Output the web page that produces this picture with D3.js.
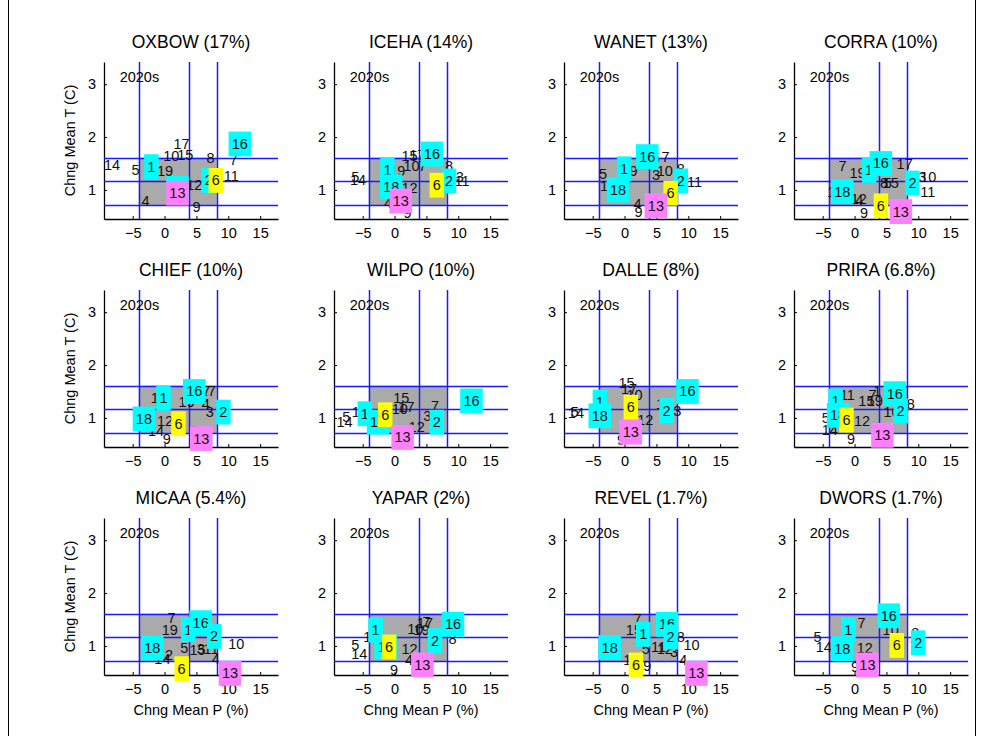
<!DOCTYPE html>
<html><head><meta charset="utf-8">
<script src="https://cdn.jsdelivr.net/npm/d3@7"></script>
<style>body{margin:0;background:#fff}svg{display:block}text{font-family:Arial,"Liberation Sans",sans-serif}</style>
</head><body>
<script>
// ---------------- data ----------------
const sites = ["OXBOW (17%)","ICEHA (14%)","WANET (13%)","CORRA (10%)",
               "CHIEF (10%)","WILPO (10%)","DALLE (8%)","PRIRA (6.8%)",
               "MICAA (5.4%)","YAPAR (2%)","REVEL (1.7%)","DWORS (1.7%)"];
const xTicks = [-5,0,5,10,15];
const yTicks = [1,2,3];
const pThresholds = [-4.05, 3.85, 8.2];   // vertical reference lines (precip %)
const tThresholds = [0.71, 1.17, 1.61];   // horizontal reference lines (temp C)
const periodLabel = "2020s";
const highlightCyan = [1,2,16,18];
const highlightYellow = [6];
const highlightMagenta = [13];
// [model, change in P (%), change in T (C)]
const OXBOW = [[14,-9.5,1.47],[5,-5.2,1.38],[19,-1.2,1.35],[10,-0.2,1.64],[15,2.0,1.66],[17,1.4,1.87],[8,6.6,1.6],[7,10.2,1.57],[11,9.3,1.27],[3,6.9,1.2],[12,3.4,1.09],[4,-3.6,0.79],[9,4.4,0.68],
  [1,-2.7,1.44],[18,0.75,1.03],[16,10.55,1.87],[2,6.3,1.18],[6,7.4,1.18],[13,0.75,0.94]];
const ICEHA = [[14,-7.0,1.18],[5,-6.8,1.25],[19,-0.85,1.35],[12,1.1,1.03],[4,-1.65,0.75],[10,1.4,1.45],[15,1.1,1.64],[17,2.3,1.67],[7,3.75,1.46],[8,7.9,1.46],[11,9.4,1.16],[3,9.6,1.24],[9,1.4,0.56],
  [1,-1.75,1.38],[18,-1.8,1.06],[16,4.6,1.68],[2,7.9,1.17],[6,6.0,1.09],[13,-0.3,0.79]];
const WANET = [[5,-4.0,1.3],[14,-3.85,1.08],[19,-0.5,1.35],[7,5.8,1.62],[3,4.3,1.28],[10,5.05,1.35],[8,8.2,1.4],[11,9.8,1.15],[4,1.4,0.73],[9,1.55,0.59],[12,4.0,0.7],[15,3.0,1.6],[17,2.6,1.6],
  [1,-0.7,1.4],[18,-2.3,1.0],[16,2.3,1.63],[2,8.2,1.17],[6,6.6,0.94],[13,3.65,0.70]];
const CORRA = [[7,-2.5,1.46],[19,-0.8,1.32],[17,6.6,1.49],[8,4.0,1.13],[15,4.4,1.13],[3,10.0,1.24],[10,10.3,1.24],[11,10.3,0.97],[14,-4.3,0.96],[12,-0.6,0.83],[4,0.1,0.81],[9,0.85,0.57],[5,4.6,1.13],
  [1,1.65,1.37],[16,2.85,1.5],[2,8.45,1.13],[18,-3.2,0.97],[6,3.5,0.7],[13,6.0,0.59]];
const CHIEF = [[11,-2.15,1.37],[17,5.5,1.5],[19,2.2,1.3],[4,5.85,1.27],[3,6.45,1.11],[14,-2.6,0.76],[12,-1.2,0.94],[9,-0.3,0.61],[5,3.9,0.75],[7,5.9,1.5],
  [1,-0.8,1.37],[18,-4.5,0.98],[16,3.4,1.5],[2,8.6,1.11],[6,1.55,0.89],[13,4.5,0.61]];
const WILPO = [[14,-9.1,0.92],[5,-8.2,1.01],[11,-6.7,1.11],[15,-0.2,1.38],[10,-0.45,1.16],[17,0.6,1.21],[3,4.5,1.03],[7,5.7,1.22],[12,2.2,0.83],
  [1,-5.3,1.08],[18,-3.85,0.92],[2,6.0,0.92],[16,10.8,1.32],[6,-2.1,1.06],[13,0.0,0.63]];
const DALLE = [[14,-8.9,1.09],[5,-8.45,1.11],[15,-0.95,1.66],[17,-0.55,1.54],[10,0.3,1.43],[12,2.0,0.97],[9,-1.2,0.59],[11,4.95,1.27],[3,7.65,1.13],
  [1,-4.5,1.3],[18,-5.15,1.04],[2,5.95,1.14],[16,8.6,1.5],[6,0.35,1.2],[13,-0.3,0.73]];
const PRIRA = [[11,-2.3,1.43],[5,-5.15,1.0],[14,-5.15,0.78],[12,-0.1,0.94],[15,0.6,1.32],[19,1.9,1.32],[7,2.2,1.43],[17,2.95,1.5],[10,4.55,1.11],[8,8.2,1.27],[9,-1.2,0.6],
  [1,-3.6,1.32],[18,-3.85,1.05],[16,5.05,1.46],[2,6.6,1.13],[6,-1.9,0.96],[13,3.1,0.67]];
const MICAA = [[7,0.45,1.52],[19,-0.45,1.31],[10,10.0,1.03],[5,2.45,0.96],[15,3.9,0.92],[3,5.05,0.95],[11,6.1,0.94],[4,7.4,0.76],[12,-1.2,0.82],[14,-1.6,0.76],
  [1,3.1,1.31],[16,4.4,1.44],[2,7.15,1.18],[18,-3.2,0.96],[6,2.05,0.57],[13,9.0,0.48]];
const YAPAR = [[5,-6.8,1.01],[14,-6.8,0.85],[11,-4.9,1.17],[12,1.1,0.95],[4,1.65,0.73],[9,-0.7,0.54],[10,2.0,1.32],[19,2.95,1.3],[17,3.5,1.43],[7,4.4,1.45],[8,8.45,1.14],
  [1,-3.6,1.3],[18,-2.65,0.98],[2,5.7,1.1],[16,7.9,1.41],[6,-1.5,0.98],[13,3.1,0.64]];
const REVEL = [[7,1.4,1.51],[15,0.2,1.3],[10,9.25,1.01],[8,8.2,1.17],[5,2.7,0.95],[11,4.15,0.98],[12,5.05,0.94],[3,7.15,0.89],[4,8.6,0.74],[19,-0.2,0.73],[9,2.95,0.62],
  [1,2.3,1.22],[16,5.4,1.41],[2,6.6,1.17],[18,-3.6,0.97],[6,1.15,0.64],[13,10.0,0.48]];
const DWORS = [[5,-6.45,1.16],[14,-6.1,0.98],[7,0.45,1.43],[12,0.35,0.96],[9,-0.55,0.6],[10,4.4,1.3],[8,8.9,1.25],[3,8.7,1.14],
  [1,-1.6,1.31],[18,-3.2,0.95],[16,4.1,1.57],[6,6.0,1.01],[2,9.35,1.06],[13,0.75,0.64]];
const siteData = [OXBOW,ICEHA,WANET,CORRA,CHIEF,WILPO,DALLE,PRIRA,MICAA,YAPAR,REVEL,DWORS];

// ---------------- layout ----------------
const W = 982, H = 736;
const pw = 174, ph = 157;
const left0 = 104, top0 = 62, dxCol = 230, dyRow = 228;
const FS = 14.5;

const svg = d3.select("body").append("svg").attr("width", W).attr("height", H);
svg.append("rect").attr("width", W).attr("height", H).attr("fill", "#fff");
svg.append("line").attr("x1", 8.5).attr("x2", 8.5).attr("y1", 0).attr("y2", H).attr("stroke", "#000");
svg.append("line").attr("x1", 975.5).attr("x2", 975.5).attr("y1", 0).attr("y2", H).attr("stroke", "#000");

const x = d3.scaleLinear().domain([-9.5, 17.8]).range([0, pw]);
const y = d3.scaleLinear().domain([0.45, 3.42]).range([ph, 0]);
const snap = v => Math.round(v) + 0.5;

function colorOf(m) {
  if (highlightCyan.includes(m)) return "#00ffff";
  if (highlightYellow.includes(m)) return "#ffff00";
  if (highlightMagenta.includes(m)) return "#ff80ff";
  return null;
}
function rank(m) {
  if (highlightCyan.includes(m)) return 1;
  if (highlightYellow.includes(m)) return 2;
  if (highlightMagenta.includes(m)) return 3;
  return 0;
}

sites.forEach((title, i) => {
  const col = i % 4, row = Math.floor(i / 4);
  const g = svg.append("g").attr("transform", `translate(${left0 + col * dxCol},${top0 + row * dyRow})`);

  // grey region
  g.append("rect")
    .attr("x", x(pThresholds[0])).attr("width", x(pThresholds[2]) - x(pThresholds[0]))
    .attr("y", y(tThresholds[2])).attr("height", y(tThresholds[0]) - y(tThresholds[2]))
    .attr("fill", "#aaaaaa");

  // axes
  const ax = g.append("g").attr("transform", `translate(0,${ph})`)
    .call(d3.axisBottom(x).tickValues(xTicks).tickFormat(d3.format("d")).tickSize(-3).tickSizeOuter(0).tickPadding(9));
  const ay = g.append("g")
    .call(d3.axisLeft(y).tickValues(yTicks).tickFormat(d3.format("d")).tickSize(-3).tickSizeOuter(0).tickPadding(8));
  [ax, ay].forEach(a => {
    a.selectAll("text").attr("font-size", FS).attr("fill", "#000").attr("font-family", "Arial, 'Liberation Sans', sans-serif");
    a.selectAll("line").attr("stroke", "#000");
    a.select(".domain").attr("stroke", "#000").attr("stroke-width", 1.3);
  });

  // blue reference lines
  pThresholds.forEach(v => g.append("line").attr("x1", snap(x(v))).attr("x2", snap(x(v))).attr("y1", 0).attr("y2", ph)
    .attr("stroke", "#1a1aff").attr("stroke-width", 1.5));
  tThresholds.forEach(v => g.append("line").attr("x1", 0).attr("x2", pw).attr("y1", snap(y(v))).attr("y2", snap(y(v)))
    .attr("stroke", "#1a1aff").attr("stroke-width", 1.5));

  // title
  g.append("text").attr("x", pw / 2).attr("y", -20.5).attr("text-anchor", "middle")
    .attr("dominant-baseline", "central").attr("font-size", 17.5).text(title);
  g.append("text").attr("x", x(-7.04)).attr("y", y(3.13)).attr("dominant-baseline", "central")
    .attr("font-size", FS).text(periodLabel);

  if (col === 0) {
    g.append("text").attr("transform", `translate(${-34},${ph / 2}) rotate(-90)`)
      .attr("text-anchor", "middle").attr("dominant-baseline", "central").attr("font-size", FS)
      .text("Chng Mean T (C)");
  }
  if (row === 2) {
    g.append("text").attr("x", pw / 2).attr("y", ph + 35).attr("text-anchor", "middle")
      .attr("dominant-baseline", "central").attr("font-size", FS).text("Chng Mean P (%)");
  }

  // model labels: plain first, then cyan, yellow, magenta
  const pts = siteData[i].map(d => ({m: d[0], px: d[1], py: d[2]}));
  pts.sort((a, b) => rank(a.m) - rank(b.m));
  pts.forEach(p => {
    const c = colorOf(p.m);
    const cx = x(p.px), cy = y(p.py);
    const r = g.append("rect");
    const t = g.append("text").attr("x", cx).attr("y", cy).attr("dominant-baseline", "central")
      .attr("font-size", FS).attr("fill", "#111").text(p.m);
    if (c) {
      const bb = t.node().getBBox();
      r.attr("x", bb.x - 3.2).attr("width", bb.width + 6.4).attr("y", cy - 12.4).attr("height", 24.8).attr("fill", c);
    } else r.remove();
  });
});
</script>
</body></html>
